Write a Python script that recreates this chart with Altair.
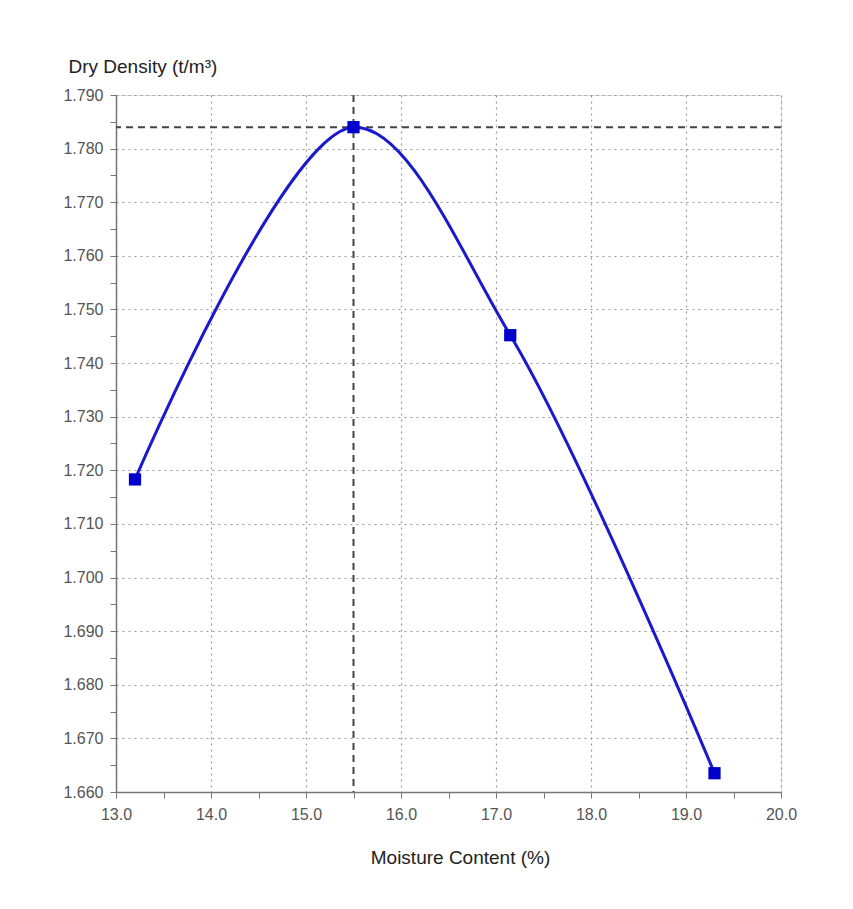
import altair as alt
import pandas as pd

# Data
moisture = [13.2, 15.5, 17.15, 19.3]
density = [1.7183, 1.7840, 1.7452, 1.6635]
optimum_moisture = [15.5]
max_dry_density = [1.784]

x_tick_values = [13.0, 13.5, 14.0, 14.5, 15.0, 15.5, 16.0, 16.5, 17.0, 17.5,
                 18.0, 18.5, 19.0, 19.5, 20.0]
y_tick_values = [1.660, 1.665, 1.670, 1.675, 1.680, 1.685, 1.690, 1.695, 1.700,
                 1.705, 1.710, 1.715, 1.720, 1.725, 1.730, 1.735, 1.740, 1.745,
                 1.750, 1.755, 1.760, 1.765, 1.770, 1.775, 1.780, 1.785, 1.790]

pts = pd.DataFrame({"moisture": moisture, "density": density})
vline = pd.DataFrame({"moisture": optimum_moisture})
hline = pd.DataFrame({"density": max_dry_density})

FONT = "Liberation Sans"
xscale = alt.Scale(domain=[13.0, 20.0], nice=False, zero=False)
yscale = alt.Scale(domain=[1.660, 1.790], nice=False, zero=False)

grid_x = {"condition": {"test": "round(datum.value*10) % 10 !== 0", "value": 0}, "value": 1}
grid_y = {"condition": {"test": "round(datum.value*1000) % 10 !== 0", "value": 0}, "value": 1}

x_axis = alt.Axis(
    values=x_tick_values,
    labelExpr="round(datum.value*10) % 10 === 0 ? format(datum.value, '.1f') : ''",
    title="Moisture Content (%)",
    titleX=344, titleY=65, titleAnchor="middle", titleAlign="center",
    titleBaseline="middle",
    titleFont=FONT, titleFontSize=19, titleFontWeight="normal", titleColor="#222222",
    labelFont=FONT, labelFontSize=16, labelColor="#555555", labelPadding=8,
    labelFlush=False, labelOverlap=False,
    tickSize=6, tickColor="#777777", domainColor="#777777", domainWidth=1.5,
    grid=True, gridDash=[2, 4], gridColor="#999999", gridWidth=1.2,
    gridOpacity=grid_x,
)
y_axis = alt.Axis(
    values=y_tick_values,
    labelExpr="round(datum.value*1000) % 10 === 0 ? format(datum.value, '.3f') : ''",
    title="Dry Density (t/m\u00b3)",
    titleAngle=0, titleX=-48, titleY=-29, titleAlign="left", titleBaseline="middle",
    titleFont=FONT, titleFontSize=19, titleFontWeight="normal", titleColor="#222222",
    labelFont=FONT, labelFontSize=16, labelColor="#555555", labelPadding=7,
    labelFlush=False, labelOverlap=False,
    tickSize=6, tickColor="#777777", domainColor="#777777", domainWidth=1.5,
    grid=True, gridDash=[2, 4], gridColor="#999999", gridWidth=1.2,
    gridOpacity=grid_y,
)

dash_v = alt.Chart(vline).mark_rule(color="#444444", strokeDash=[7, 5], strokeWidth=2).encode(
    x=alt.X("moisture:Q", scale=xscale, axis=x_axis)
)
dash_h = alt.Chart(hline).mark_rule(color="#444444", strokeDash=[7, 5], strokeWidth=2).encode(
    y=alt.Y("density:Q", scale=yscale, axis=y_axis)
)
curve = alt.Chart(pts).mark_line(color="#1a1acc", strokeWidth=3, interpolate="catmull-rom").encode(
    x=alt.X("moisture:Q", scale=xscale, axis=x_axis),
    y=alt.Y("density:Q", scale=yscale, axis=y_axis),
)
marks = alt.Chart(pts).mark_point(shape="square", filled=True, color="#0000cc",
                                  size=150, opacity=1).encode(
    x=alt.X("moisture:Q", scale=xscale, axis=x_axis),
    y=alt.Y("density:Q", scale=yscale, axis=y_axis),
)

chart = alt.layer(dash_v, dash_h, curve, marks).properties(
    width=665,
    height=697,
    autosize=alt.AutoSizeParams(type="none"),
    padding={"left": 108, "top": 87, "right": 64, "bottom": 109},
).configure_view(stroke=None).configure(background="white")

chart.save("out.html", embed_options={"renderer": "svg", "actions": False})
